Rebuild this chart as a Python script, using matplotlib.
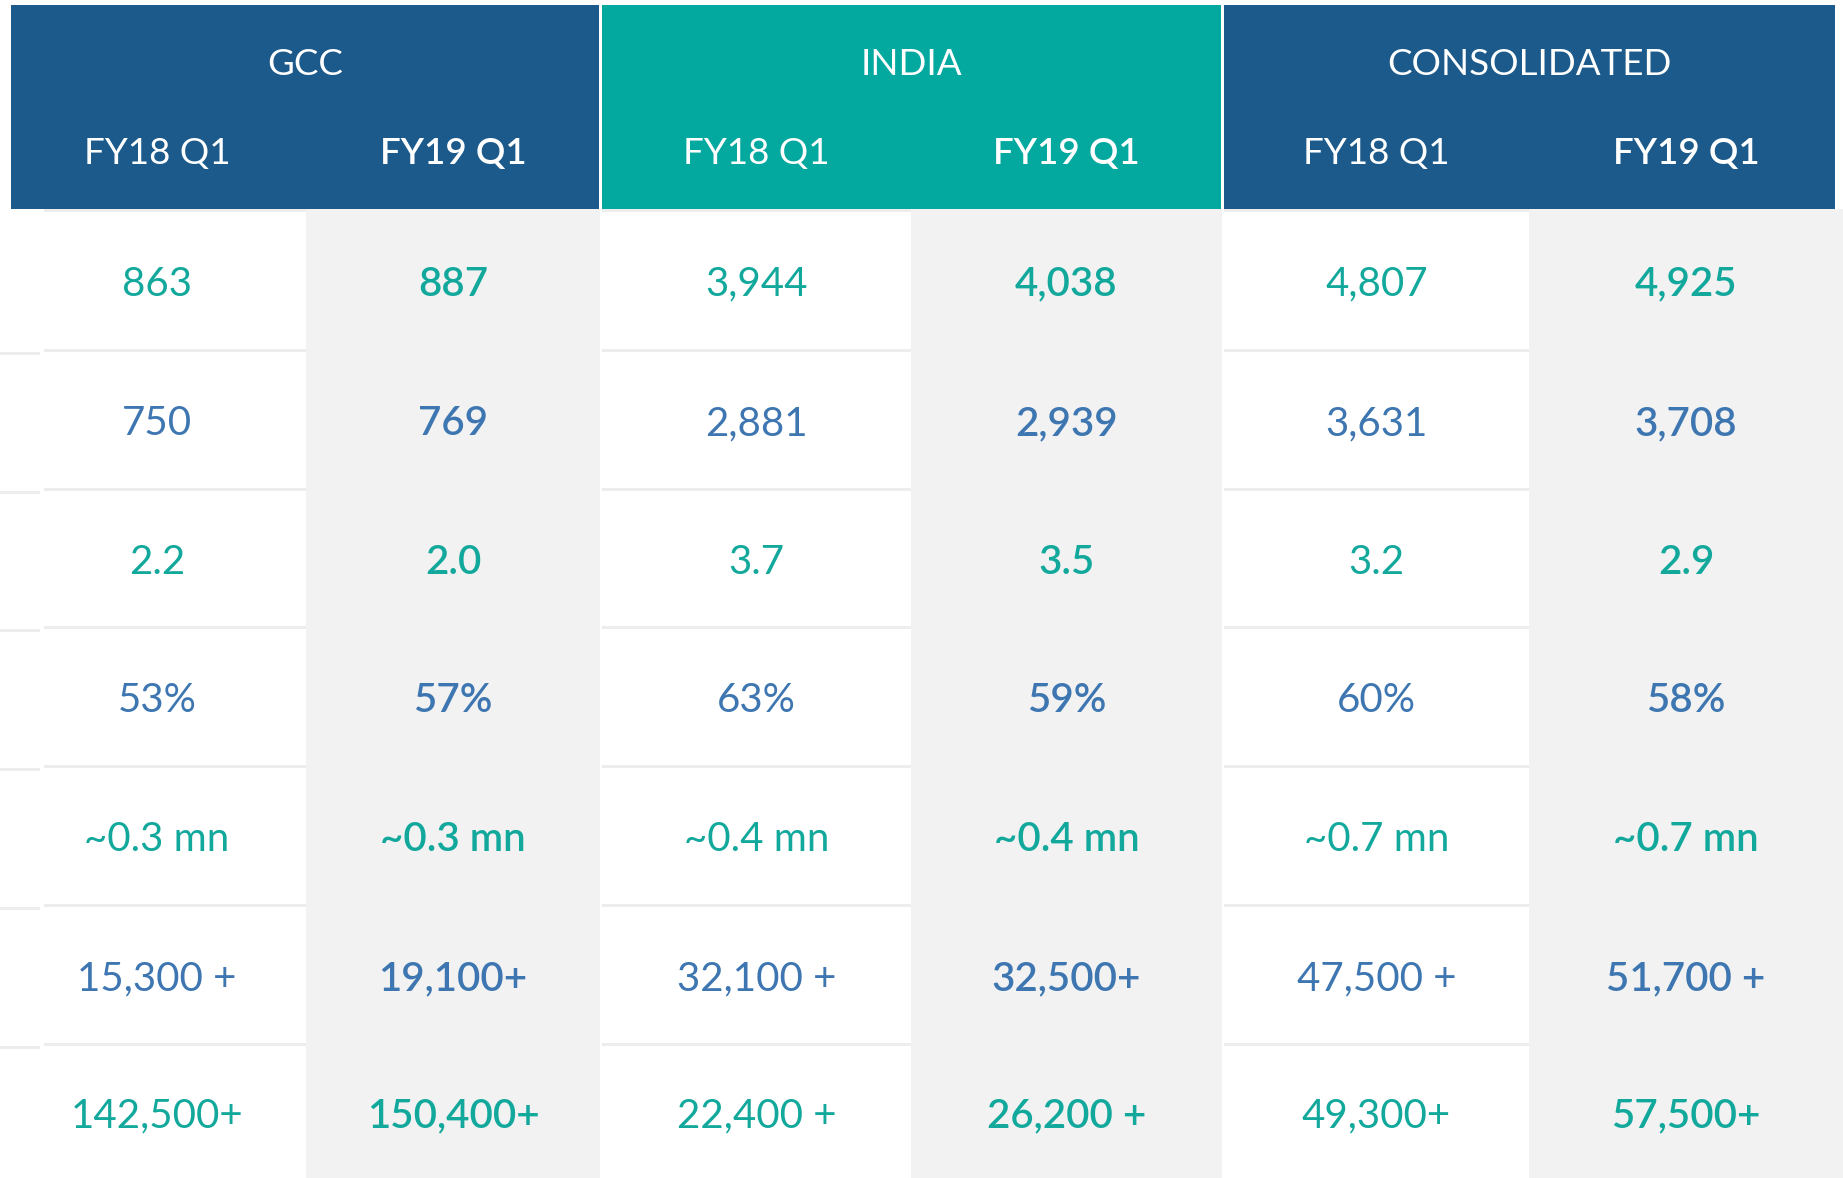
import matplotlib
matplotlib.use("Agg")
import matplotlib.pyplot as plt
from matplotlib.patches import Rectangle

# ---------------- data ----------------
groups = ["GCC", "INDIA", "CONSOLIDATED"]
periods = ["FY18 Q1", "FY19 Q1"]
gcc_fy18 = ["863", "750", "2.2", "53%", "~0.3 mn", "15,300 +", "142,500+"]
gcc_fy19 = ["887", "769", "2.0", "57%", "~0.3 mn", "19,100+", "150,400+"]
india_fy18 = ["3,944", "2,881", "3.7", "63%", "~0.4 mn", "32,100 +", "22,400 +"]
india_fy19 = ["4,038", "2,939", "3.5", "59%", "~0.4 mn", "32,500+", "26,200 +"]
cons_fy18 = ["4,807", "3,631", "3.2", "60%", "~0.7 mn", "47,500 +", "49,300+"]
cons_fy19 = ["4,925", "3,708", "2.9", "58%", "~0.7 mn", "51,700 +", "57,500+"]
columns = [gcc_fy18, gcc_fy19, india_fy18, india_fy19, cons_fy18, cons_fy19]

# ---------------- style ----------------
W, H = 1843, 1178
DARK_BLUE = "#1B5A8A"
TEAL_HDR = "#03A89E"
TEXT_TEAL = "#12A89C"
TEXT_BLUE = "#3D76B0"
GREY = "#F2F2F2"
SEP = "#EDEDED"
FONT = "Lato"
LIGHT_W = "normal"
BOLD_W = "semibold"

fig = plt.figure(figsize=(W / 100, H / 100), dpi=100)
ax = fig.add_axes([0, 0, 1, 1])
ax.set_xlim(0, W)
ax.set_ylim(H, 0)
ax.axis("off")
fig.patch.set_facecolor("white")

# layout (pixels)
hdr_top, hdr_bot = 5, 209
group_x = [(11, 599), (602, 1221), (1224, 1835)]
group_colors = [DARK_BLUE, TEAL_HDR, DARK_BLUE]
col_x = [(44, 306), (306, 600), (602, 911), (911, 1222), (1224, 1529), (1529, 1843)]
row_edges = [209, 349, 488, 626, 765, 904, 1043, 1178]
n_rows = len(gcc_fy18)

# header
for (x0, x1), c, name in zip(group_x, group_colors, groups):
    ax.add_patch(Rectangle((x0, hdr_top), x1 - x0, hdr_bot - hdr_top, color=c, lw=0))
    ax.text((x0 + x1) / 2, 75, name, ha="center", va="baseline", color="white",
            fontsize=26.5, family=FONT, fontweight=LIGHT_W)

for ci, (x0, x1) in enumerate(col_x):
    cx = (x0 + x1) / 2
    if ci == 0:
        cx = 157
    lab = periods[ci % 2]
    ax.text(cx, 164, lab, ha="center", va="baseline", color="white",
            fontsize=26.5, family=FONT,
            fontweight=LIGHT_W if ci % 2 == 0 else BOLD_W)

# body backgrounds
for ci, (x0, x1) in enumerate(col_x):
    if ci % 2 == 1:
        ax.add_patch(Rectangle((x0, hdr_bot), x1 - x0, H - hdr_bot, color=GREY, lw=0))
    else:
        ax.add_patch(Rectangle((x0, hdr_bot), x1 - x0, H - hdr_bot, color=SEP, lw=0))
        for r in range(n_rows):
            y0 = row_edges[r] + 3
            y1 = row_edges[r + 1]
            ax.add_patch(Rectangle((x0, y0), x1 - x0, y1 - y0, color="white", lw=0))

# left stub separator lines (offset remnants)
for r in range(1, n_rows):
    ax.add_patch(Rectangle((0, row_edges[r] + 3), 40, 3, color=SEP, lw=0))

# values
for ci, col in enumerate(columns):
    x0, x1 = col_x[ci]
    cx = (x0 + x1) / 2
    if ci == 0:
        cx = 157
    for r, val in enumerate(col):
        yc = (row_edges[r] + row_edges[r + 1]) / 2 + 2
        if r == n_rows - 1:
            yc = 1113
        color = TEXT_TEAL if r % 2 == 0 else TEXT_BLUE
        ax.text(cx, yc + 14.5, val, ha="center", va="baseline", color=color,
                fontsize=29, family=FONT,
                fontweight=LIGHT_W if ci % 2 == 0 else BOLD_W)

fig.savefig("out.png", dpi=100, facecolor="white")
